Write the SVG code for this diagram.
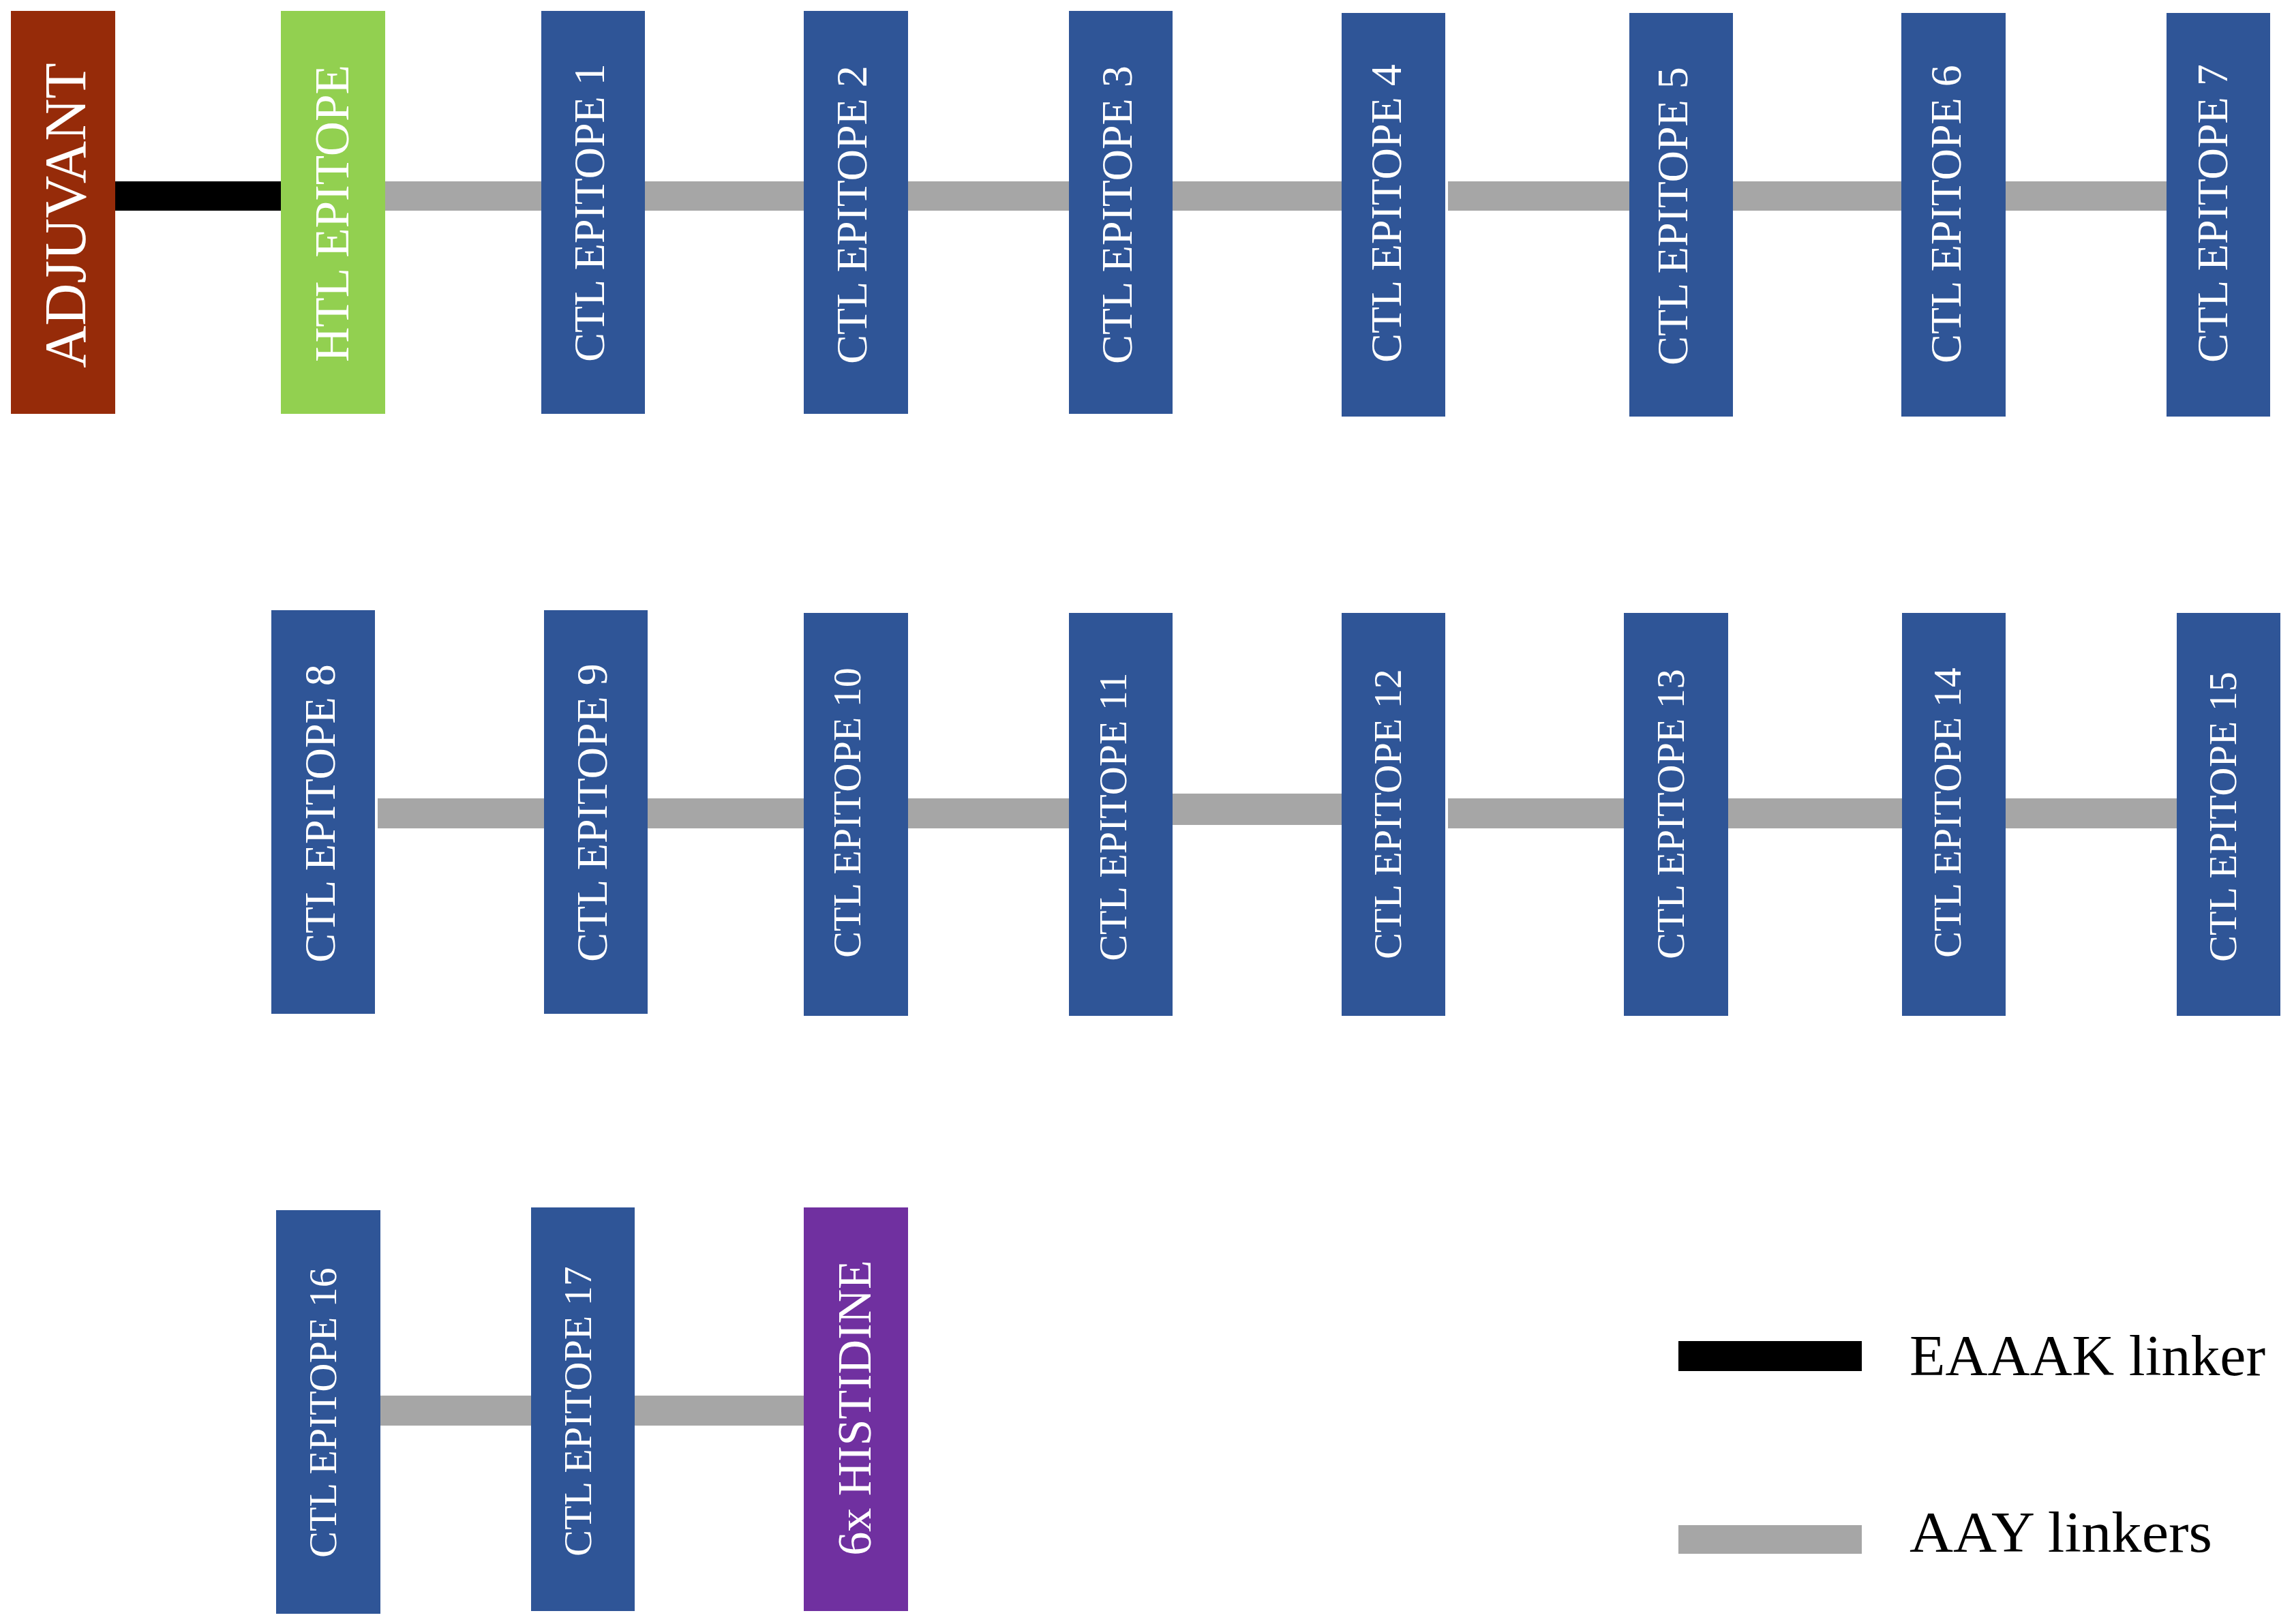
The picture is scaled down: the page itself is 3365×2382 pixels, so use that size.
<svg xmlns="http://www.w3.org/2000/svg" width="3365" height="2382" viewBox="0 0 3365 2382">
<style>
.lbl{font-family:"Liberation Serif","Times New Roman",serif;fill:#FFFFFF;text-anchor:middle}
.s1{font-size:64px}
.s2{font-size:58px}
.ctl{fill:#2F5597}
.aay{fill:#A6A6A6}
.eaaak{fill:#000000}
.leg{font-family:"Liberation Serif","Times New Roman",serif;font-size:85px;fill:#000000}
</style>
<rect width="3365" height="2382" fill="#FFFFFF"/>
<g id="connectors">
<rect class="eaaak" x="169" y="266" width="243" height="43"/>
<rect class="aay" x="565" y="266" width="229" height="43"/>
<rect class="aay" x="946" y="266" width="233" height="43"/>
<rect class="aay" x="1332" y="266" width="236" height="43"/>
<rect class="aay" x="1720" y="266" width="248" height="43"/>
<rect class="aay" x="2124" y="266" width="266" height="43"/>
<rect class="aay" x="2542" y="266" width="247" height="43"/>
<rect class="aay" x="2942" y="266" width="236" height="43"/>
<rect class="aay" x="554" y="1171" width="244" height="44"/>
<rect class="aay" x="950" y="1171" width="229" height="44"/>
<rect class="aay" x="1332" y="1171" width="236" height="44"/>
<rect class="aay" x="1720" y="1164" width="248" height="46"/>
<rect class="aay" x="2124" y="1171" width="258" height="44"/>
<rect class="aay" x="2535" y="1171" width="255" height="44"/>
<rect class="aay" x="2942" y="1171" width="251" height="44"/>
<rect class="aay" x="558" y="2047" width="221" height="44"/>
<rect class="aay" x="931" y="2047" width="248" height="44"/>
</g>
<g id="adjuvant"><rect x="16" y="16" width="153" height="591" fill="#962B09"/><text class="lbl" font-size="86" transform="translate(125,316) rotate(-90)">ADJUVANT</text></g>
<g id="htl"><rect x="412" y="16" width="153" height="591" fill="#92D050"/><text class="lbl" font-size="71" transform="translate(511,313) rotate(-90)">HTL EPITOPE</text></g>
<g id="ctl1"><rect class="ctl" x="794" y="16" width="152" height="591"/><text class="lbl s1" transform="translate(886,312) rotate(-90)">CTL EPITOPE 1</text></g>
<g id="ctl2"><rect class="ctl" x="1179" y="16" width="153" height="591"/><text class="lbl s1" transform="translate(1271,315) rotate(-90)">CTL EPITOPE 2</text></g>
<g id="ctl3"><rect class="ctl" x="1568" y="16" width="152" height="591"/><text class="lbl s1" transform="translate(1660,315) rotate(-90)">CTL EPITOPE 3</text></g>
<g id="ctl4"><rect class="ctl" x="1968" y="19" width="152" height="592"/><text class="lbl s1" transform="translate(2055,313) rotate(-90)">CTL EPITOPE 4</text></g>
<g id="ctl5"><rect class="ctl" x="2390" y="19" width="152" height="592"/><text class="lbl s1" transform="translate(2475,317) rotate(-90)">CTL EPITOPE 5</text></g>
<g id="ctl6"><rect class="ctl" x="2789" y="19" width="153" height="592"/><text class="lbl s1" transform="translate(2876,314) rotate(-90)">CTL EPITOPE 6</text></g>
<g id="ctl7"><rect class="ctl" x="3178" y="19" width="152" height="592"/><text class="lbl s1" transform="translate(3267,313) rotate(-90)">CTL EPITOPE 7</text></g>
<g id="ctl8"><rect class="ctl" x="398" y="895" width="152" height="592"/><text class="lbl s1" transform="translate(491,1193) rotate(-90)">CTL EPITOPE 8</text></g>
<g id="ctl9"><rect class="ctl" x="798" y="895" width="152" height="592"/><text class="lbl s1" transform="translate(890,1192) rotate(-90)">CTL EPITOPE 9</text></g>
<g id="ctl10"><rect class="ctl" x="1179" y="899" width="153" height="591"/><text class="lbl s2" transform="translate(1262,1192) rotate(-90)">CTL EPITOPE 10</text></g>
<g id="ctl11"><rect class="ctl" x="1568" y="899" width="152" height="591"/><text class="lbl s2" transform="translate(1652,1198) rotate(-90)">CTL EPITOPE 11</text></g>
<g id="ctl12"><rect class="ctl" x="1968" y="899" width="152" height="591"/><text class="lbl s2" transform="translate(2055,1194) rotate(-90)">CTL EPITOPE 12</text></g>
<g id="ctl13"><rect class="ctl" x="2382" y="899" width="153" height="591"/><text class="lbl s2" transform="translate(2470,1194) rotate(-90)">CTL EPITOPE 13</text></g>
<g id="ctl14"><rect class="ctl" x="2790" y="899" width="152" height="591"/><text class="lbl s2" transform="translate(2876,1192) rotate(-90)">CTL EPITOPE 14</text></g>
<g id="ctl15"><rect class="ctl" x="3193" y="899" width="152" height="591"/><text class="lbl s2" transform="translate(3280,1198) rotate(-90)">CTL EPITOPE 15</text></g>
<g id="ctl16"><rect class="ctl" x="405" y="1775" width="153" height="592"/><text class="lbl s2" transform="translate(493,2072) rotate(-90)">CTL EPITOPE 16</text></g>
<g id="ctl17"><rect class="ctl" x="779" y="1771" width="152" height="592"/><text class="lbl s2" transform="translate(867,2070) rotate(-90)">CTL EPITOPE 17</text></g>
<g id="histidine"><rect x="1179" y="1771" width="153" height="592" fill="#7030A0"/><text class="lbl" font-size="70" transform="translate(1277,2065) rotate(-90)">6x HISTIDINE</text></g>
<g id="legend">
<rect class="eaaak" x="2462" y="1967" width="269" height="44"/>
<text class="leg" x="2801" y="2017" textLength="522" lengthAdjust="spacingAndGlyphs">EAAAK linker</text>
<rect class="aay" x="2462" y="2237" width="269" height="42"/>
<text class="leg" x="2801" y="2276" textLength="444" lengthAdjust="spacingAndGlyphs">AAY linkers</text>
</g>
</svg>
